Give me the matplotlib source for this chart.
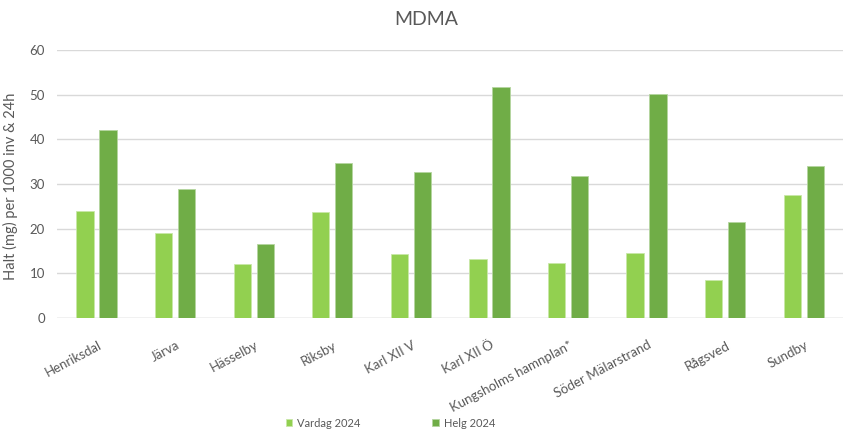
import numpy as np
import matplotlib.pyplot as plt
import matplotlib.transforms as mtransforms

# Data
stations = ["Henriksdal", "Järva", "Hässelby", "Riksby", "Karl XII V", "Karl XII Ö",
            "Kungsholms hamnplan*", "Söder Mälarstrand", "Rågsved", "Sundby"]
vardag_2024 = [24.0, 19.0, 12.2, 23.8, 14.3, 13.3, 12.3, 14.5, 8.5, 27.6]
helg_2024 = [42.0, 29.0, 16.6, 34.7, 32.7, 51.8, 31.8, 50.2, 21.6, 34.1]

plt.rcParams["font.family"] = ["Lato", "DejaVu Sans"]
grey = "#595959"

fig = plt.figure(figsize=(8.43, 4.30), dpi=100)
ax = fig.add_axes([0.068, 0.26, 0.932, 0.624])

x = np.arange(len(stations))
w = 0.22
ax.bar(x - 0.146, vardag_2024, w, color="#92D050", edgecolor="#c9e8a8", linewidth=0.6,
       label="Vardag 2024", zorder=3)
ax.bar(x + 0.146, helg_2024, w, color="#70AD47", edgecolor="#b5d6a0", linewidth=0.6,
       label="Helg 2024", zorder=3)

ax.set_xlim(-0.5, len(stations) - 0.5)
ax.set_ylim(0, 60)
ax.set_yticks(range(0, 61, 10))
ax.yaxis.grid(True, color="#d9d9d9", linewidth=1, zorder=0)
for s in ax.spines.values():
    s.set_visible(False)
ax.axhline(0, color="#d9d9d9", linewidth=1, zorder=1)
ax.tick_params(axis="both", length=0, colors=grey, labelsize=9.5)
ax.tick_params(axis="y", pad=9)

ax.set_xticks(x)
ax.set_xticklabels(stations, rotation=28, ha="right", rotation_mode="anchor",
                   fontsize=9.5, color=grey)
# push rotated labels so their upper end sits under the category
offset = mtransforms.ScaledTranslation(1 / 100, -16 / 100, fig.dpi_scale_trans)
for lbl in ax.get_xticklabels():
    lbl.set_transform(lbl.get_transform() + offset)

ax.set_ylabel("Halt (mg) per 1000 inv & 24h", color=grey, fontsize=10.5)
ax.yaxis.set_label_coords(-0.05, 0.49)
fig.suptitle("MDMA", color=grey, fontsize=14, x=0.506, y=0.975)

fig.legend(loc="lower center", ncol=2, frameon=False, fontsize=8, labelcolor=grey,
           handlelength=0.6, handleheight=0.6, handletextpad=0.4, columnspacing=6.5,
           bbox_to_anchor=(0.463, -0.02))

fig.savefig("out.png", dpi=100)
